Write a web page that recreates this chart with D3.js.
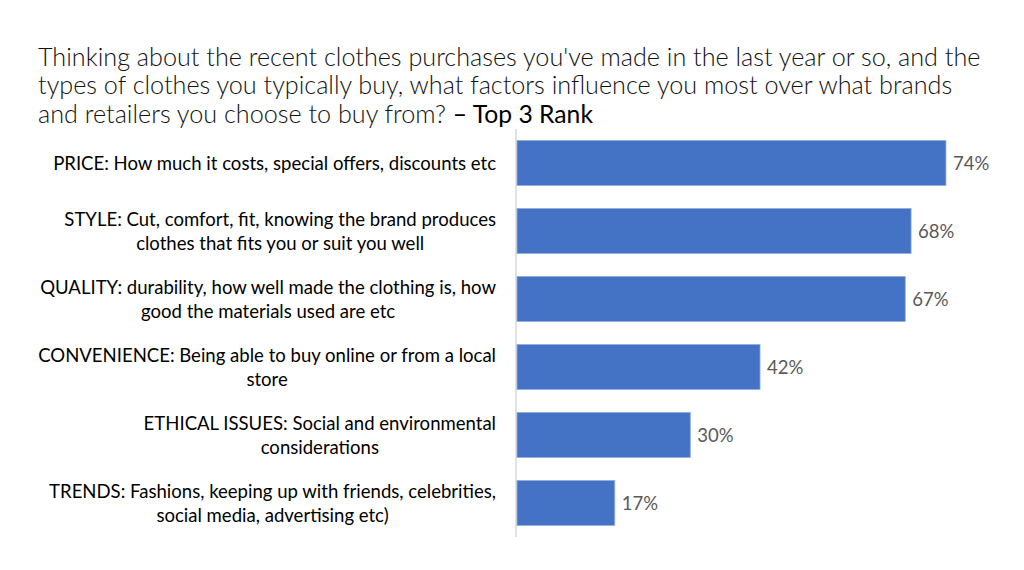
<!DOCTYPE html>
<html>
<head>
<meta charset="utf-8">
<script src="https://cdnjs.cloudflare.com/ajax/libs/d3/7.8.5/d3.min.js"></script>
<style>
  body { margin: 0; background: #fff; }
  svg { display: block; }
</style>
</head>
<body>
<svg id="Chart"></svg>
<script>
// data
let categories = [
    ["PRICE: How much it costs, special offers, discounts etc"],
    ["STYLE: Cut, comfort, fit, knowing the brand produces", "clothes that fits you or suit you well"],
    ["QUALITY: durability, how well made the clothing is, how", "good the materials used are etc"],
    ["CONVENIENCE: Being able to buy online or from a local", "store"],
    ["ETHICAL ISSUES: Social and environmental", "considerations"],
    ["TRENDS: Fashions, keeping up with friends, celebrities,", "social media, advertising etc)"]
]
let values = [0.74, 0.68, 0.67, 0.42, 0.30, 0.17]
let titleLines = [
    "Thinking about the recent clothes purchases you've made in the last year or so, and the",
    "types of clothes you typically buy, what factors influence you most over what brands",
    "and retailers you choose to buy from? "
]
let titleTail = "\u2013 Top 3 Rank"

let font = "Lato, 'Open Sans', sans-serif"

function getConfig() {
    let width = 1024
    let height = 570
    let margin = { top: 129, bottom: 33, left: 516, right: 40 }
    let container = d3.select("#Chart")
        .attr("width", width)
        .attr("height", height)
    return { width, height, margin, container }
}

function getScales(config) {
    let { margin, height } = config
    let xScale = d3.scaleLinear()
        .domain([0, 1])
        .range([margin.left, margin.left + 581])
    let yScale = d3.scaleBand()
        .domain(d3.range(values.length))
        .range([margin.top, height - margin.bottom])
        .paddingInner(0.34)
        .paddingOuter(0.17)
    return { xScale, yScale }
}

// shrink or grow a font so the given text gets a target width
function fitSize(container, text, weight, target) {
    let probe = container.append("text")
        .style("font-family", font)
        .style("font-weight", weight)
        .style("font-size", "20px")
        .text(text)
    let w = probe.node().getComputedTextLength()
    probe.remove()
    return 20 * target / w
}

function drawTitle(config) {
    let { container } = config
    let size = fitSize(container, titleLines[0], 300, 943)
    let title = container.append("text")
        .attr("x", 38)
        .style("font-family", font)
        .style("font-size", size + "px")
        .style("font-weight", 300)
        .attr("fill", "#111")

    titleLines.forEach((line, i) => {
        title.append("tspan")
            .attr("x", 38)
            .attr("y", 66 + i * 28.3)
            .text(line)
        if (i === titleLines.length - 1) {
            title.append("tspan")
                .style("font-weight", 400)
                .style("font-size", (size - 0.5) + "px")
                .attr("fill", "#000")
                .text(titleTail)
        }
    })
}

function drawBars(config, scales) {
    let { container, margin } = config
    let { xScale, yScale } = scales

    container.append("line")
        .attr("x1", margin.left).attr("x2", margin.left)
        .attr("y1", yScale.range()[0])
        .attr("y2", yScale.range()[1])
        .attr("stroke", "#d9d9d9")
        .attr("stroke-width", 1.5)

    container.selectAll(".bar")
        .data(values)
        .enter().append("rect")
        .attr("class", "bar")
        .attr("x", margin.left + 1)
        .attr("y", (d, i) => yScale(i))
        .attr("width", d => xScale(d) - margin.left - 1)
        .attr("height", yScale.bandwidth())
        .attr("fill", "#4472c4")
        .attr("stroke", "#8faadc")
        .attr("stroke-width", 0.8)

    container.selectAll(".value")
        .data(values)
        .enter().append("text")
        .attr("class", "value")
        .attr("x", d => xScale(d) + 7)
        .attr("y", (d, i) => yScale(i) + yScale.bandwidth() / 2)
        .attr("dominant-baseline", "central")
        .style("font-family", font)
        .style("font-size", "18.5px")
        .attr("fill", "#595959")
        .text(d => d3.format(".0%")(d))
}

function drawLabels(config, scales) {
    let { container } = config
    let { yScale } = scales
    let size = fitSize(container, categories[0][0], 400, 443)
    let right = 496

    categories.forEach((lines, i) => {
        let cy = yScale(i) + yScale.bandwidth() / 2
        // lines are centred on each other, block is right aligned
        let widths = lines.map(l => {
            let probe = container.append("text")
                .style("font-family", font)
                .style("font-size", size + "px")
                .text(l)
            let w = probe.node().getComputedTextLength()
            probe.remove()
            return w
        })
        let mid = right - d3.max(widths) / 2
        lines.forEach((l, j) => {
            container.append("text")
                .attr("x", mid)
                .attr("y", cy + (j - (lines.length - 1) / 2) * 23.5)
                .attr("text-anchor", "middle")
                .attr("dominant-baseline", "central")
                .style("font-family", font)
                .style("font-size", size + "px")
                .attr("fill", "#000")
                .text(l)
        })
    })
}

function drawChart() {
    let config = getConfig()
    let scales = getScales(config)
    drawTitle(config)
    drawBars(config, scales)
    drawLabels(config, scales)
}

drawChart()
</script>
</body>
</html>
